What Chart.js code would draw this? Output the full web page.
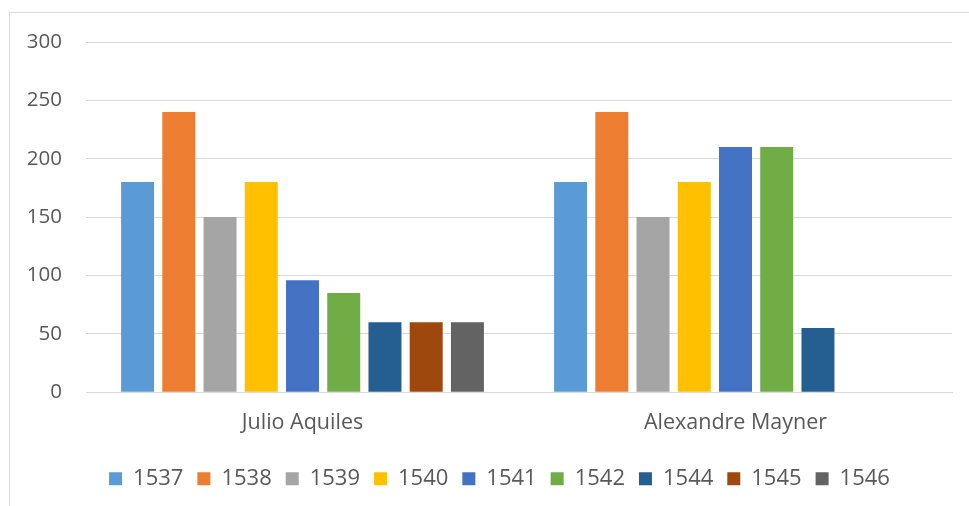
<!DOCTYPE html>
<html>
<head>
<meta charset="utf-8">
<script src="https://cdn.jsdelivr.net/npm/chart.js@4/dist/chart.umd.min.js"></script>
<style>
  html, body { margin: 0; padding: 0; background: #ffffff; }
  #wrap { position: relative; width: 969px; height: 506px; overflow: hidden; }
  #frame { position: absolute; left: 9px; top: 12px; width: 1000px; height: 600px; border: 1px solid #d9d9d9; box-sizing: border-box; }
  #c { position: absolute; left: 0; top: 0; }
</style>
</head>
<body>
<div id="wrap">
  <div id="frame"></div>
  <canvas id="c" width="969" height="506"></canvas>
</div>
<script>
// Categories (people) and one series per year
const categories = ['Julio Aquiles', 'Alexandre Mayner'];
const years = ['1537', '1538', '1539', '1540', '1541', '1542', '1544', '1545', '1546'];

const v1537 = [180, 180];
const v1538 = [240, 240];
const v1539 = [150, 150];
const v1540 = [180, 180];
const v1541 = [96, 210];
const v1542 = [85, 210];
const v1544 = [60, 55];
const v1545 = [60, null];
const v1546 = [60, null];

const yTicks = [0, 50, 100, 150, 200, 250, 300];

const seriesValues = [v1537, v1538, v1539, v1540, v1541, v1542, v1544, v1545, v1546];
const seriesColors = ['#5b9bd5', '#ed7d31', '#a5a5a5', '#ffc000', '#4472c4', '#70ad47', '#255e91', '#9e480e', '#636363'];

const datasets = years.map((y, i) => ({
  label: y,
  data: seriesValues[i],
  backgroundColor: seriesColors[i],
  borderWidth: 0,
  categoryPercentage: 0.857,
  barPercentage: 0.8
}));

const family = "'Open Sans', sans-serif";

// Centre the legend row under the whole frame rather than the padded box
const legendShift = {
  id: 'legendShift',
  afterLayout(chart) {
    const lg = chart.legend;
    if (lg) { lg.left += 23.5; lg.right += 23.5; }
  }
};

new Chart(document.getElementById('c'), {
  type: 'bar',
  data: { labels: categories, datasets },
  plugins: [legendShift],
  options: {
    responsive: false,
    animation: false,
    layout: { padding: { left: 0, right: 17, top: 42, bottom: 6.3 } },
    plugins: {
      tooltip: { enabled: false },
      legend: {
        position: 'bottom',
        labels: {
          boxWidth: 13,
          boxHeight: 13,
          padding: 14,
          color: '#595959',
          font: { family, size: 22 }
        }
      }
    },
    scales: {
      x: {
        grid: { display: false, drawTicks: false },
        border: { color: '#d9d9d9', width: 1 },
        ticks: { color: '#595959', font: { family, size: 21.5, lineHeight: 1 }, padding: 20 }
      },
      y: {
        min: 0,
        max: 300,
        afterBuildTicks: (s) => { s.ticks = yTicks.map(v => ({ value: v })); },
        afterFit: (s) => { s.width = 86; },
        grid: { color: '#d9d9d9', lineWidth: 1, drawTicks: false },
        border: { display: false },
        ticks: { color: '#595959', font: { family, size: 20.5 }, padding: 24 }
      }
    }
  }
});
</script>
</body>
</html>
